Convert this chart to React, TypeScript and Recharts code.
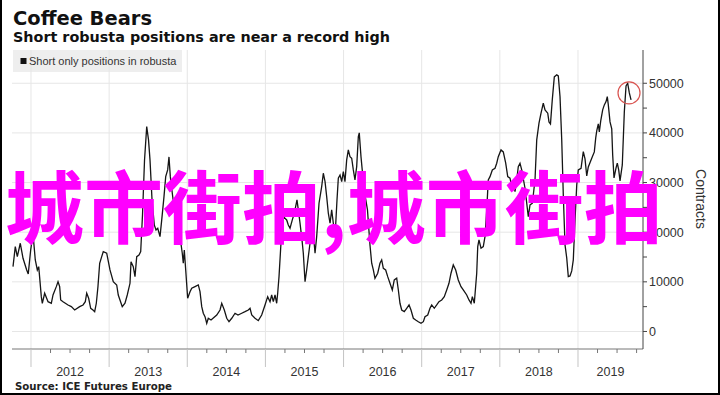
import React from 'react';
import { LineChart, Line, XAxis, YAxis, ReferenceLine, ReferenceDot } from 'recharts';

// weekly-ish readings, decimal years
const dates = [
  2011.770, 2011.799, 2011.825, 2011.863, 2011.898, 2011.945, 2011.965, 2011.996, 2012.026, 2012.055,
  2012.081, 2012.099, 2012.132, 2012.145, 2012.175, 2012.218, 2012.260, 2012.282, 2012.324, 2012.346,
  2012.367, 2012.380, 2012.410, 2012.474, 2012.516, 2012.559, 2012.623, 2012.666, 2012.695, 2012.713,
  2012.738, 2012.764, 2012.793, 2012.815, 2012.836, 2012.857, 2012.879, 2012.905, 2012.925, 2012.969,
  2013.011, 2013.053, 2013.097, 2013.117, 2013.168, 2013.203, 2013.232, 2013.267, 2013.280, 2013.309,
  2013.331, 2013.353, 2013.382, 2013.404, 2013.427, 2013.453, 2013.481, 2013.504, 2013.523, 2013.549,
  2013.578, 2013.600, 2013.622, 2013.651, 2013.673, 2013.702, 2013.724, 2013.749, 2013.766, 2013.783,
  2013.811, 2013.843, 2013.881, 2013.907, 2013.936, 2013.949, 2013.962, 2013.980, 2014.005, 2014.035,
  2014.057, 2014.099, 2014.141, 2014.163, 2014.185, 2014.205, 2014.227, 2014.249, 2014.269, 2014.304,
  2014.377, 2014.419, 2014.441, 2014.474, 2014.505, 2014.534, 2014.569, 2014.611, 2014.649, 2014.697,
  2014.739, 2014.781, 2014.803, 2014.825, 2014.867, 2014.909, 2014.952, 2014.995, 2015.029, 2015.059,
  2015.080, 2015.101, 2015.123, 2015.144, 2015.157, 2015.174, 2015.199, 2015.229, 2015.272, 2015.293,
  2015.315, 2015.344, 2015.370, 2015.404, 2015.421, 2015.443, 2015.468, 2015.485, 2015.507, 2015.528,
  2015.549, 2015.571, 2015.613, 2015.635, 2015.656, 2015.686, 2015.720, 2015.741, 2015.763, 2015.784,
  2015.805, 2015.827, 2015.848, 2015.869, 2015.891, 2015.916, 2015.933, 2015.955, 2015.976, 2015.997,
  2016.018, 2016.040, 2016.061, 2016.082, 2016.104, 2016.125, 2016.146, 2016.168, 2016.189, 2016.201,
  2016.223, 2016.245, 2016.274, 2016.306, 2016.338, 2016.360, 2016.381, 2016.402, 2016.437, 2016.466,
  2016.488, 2016.509, 2016.539, 2016.565, 2016.594, 2016.624, 2016.649, 2016.680, 2016.701, 2016.722,
  2016.744, 2016.777, 2016.808, 2016.838, 2016.863, 2016.893, 2016.923, 2016.957, 2016.991, 2017.021,
  2017.042, 2017.077, 2017.106, 2017.128, 2017.161, 2017.192, 2017.221, 2017.256, 2017.289, 2017.320,
  2017.349, 2017.375, 2017.404, 2017.435, 2017.468, 2017.503, 2017.532, 2017.576, 2017.605, 2017.631,
  2017.648, 2017.673, 2017.704, 2017.717, 2017.733, 2017.759, 2017.788, 2017.810, 2017.832, 2017.852,
  2017.874, 2017.904, 2017.938, 2017.960, 2017.980, 2018.015, 2018.044, 2018.075, 2018.101, 2018.130,
  2018.152, 2018.172, 2018.194, 2018.216, 2018.236, 2018.258, 2018.280, 2018.322, 2018.364, 2018.386,
  2018.416, 2018.450, 2018.472, 2018.501, 2018.527, 2018.556, 2018.578, 2018.613, 2018.629, 2018.648,
  2018.671, 2018.697, 2018.728, 2018.748, 2018.770, 2018.792, 2018.812, 2018.834, 2018.856, 2018.876,
  2018.898, 2018.920, 2018.940, 2018.962, 2018.984, 2019.004, 2019.039, 2019.068, 2019.090, 2019.112,
  2019.132, 2019.176, 2019.209, 2019.227, 2019.240, 2019.260, 2019.273, 2019.291, 2019.316, 2019.337,
  2019.359, 2019.375, 2019.388, 2019.410, 2019.432, 2019.444, 2019.461, 2019.487, 2019.503, 2019.521,
  2019.538, 2019.567, 2019.593, 2019.615, 2019.636, 2019.657, 2019.679,
];

const shortPositions = [
  13060, 17090, 15070, 17770, 14750, 12390, 11590, 16420, 19650, 14410,
  12390, 13060, 7010, 5680, 7700, 6000, 5680, 7350, 9030, 10030,
  9030, 6350, 6000, 5340, 5000, 4330, 5000, 5340, 6000, 7700,
  6690, 4670, 4330, 3990, 5680, 9030, 13740, 15070, 16080, 15760,
  12390, 10030, 9370, 7350, 5000, 5680, 7350, 9710, 14060, 13060,
  11040, 15070, 15410, 16080, 23470, 34560, 41270, 38590, 34560, 26500,
  21460, 20450, 20790, 19100, 22470, 27160, 31190, 32540, 35160, 31190,
  27500, 23470, 20050, 19100, 15760, 13740, 16420, 12390, 6690, 8020,
  8700, 9030, 9370, 8020, 5000, 3670, 2980, 1650, 2660, 2320,
  3320, 4330, 5680, 4330, 2660, 1970, 2660, 3670, 3320, 3670,
  3990, 4330, 4670, 3320, 2660, 2180, 3320, 5340, 7010, 6000,
  7350, 6000, 7350, 5680, 7700, 11040, 17770, 23130, 22470, 21460,
  20790, 22470, 23820, 26500, 24480, 21800, 18440, 15760, 10030, 12390,
  15070, 17770, 19790, 15760, 19100, 25830, 29180, 31880, 30180, 27160,
  23820, 21800, 24480, 21800, 19100, 26500, 30870, 31530, 30180, 32200,
  30180, 34560, 36570, 35220, 34900, 32540, 30530, 33210, 39250, 40000,
  35220, 31530, 27500, 24480, 17430, 13740, 12390, 10720, 11730, 13740,
  14410, 12730, 12390, 11040, 9710, 8360, 10380, 10720, 8360, 5680,
  4330, 3990, 4670, 5340, 4330, 2660, 2320, 1970, 1650, 1970,
  2980, 3320, 4670, 5340, 4670, 5340, 6000, 6350, 7010, 8360,
  9710, 11730, 13400, 12390, 10380, 9030, 8360, 7350, 6350, 5680,
  7010, 5680, 11730, 17090, 18440, 16760, 17090, 19100, 24480, 30530,
  31190, 32540, 32880, 33890, 35220, 36570, 36170, 33890, 31190, 30870,
  29180, 29920, 28170, 30530, 33210, 33890, 32540, 28850, 23130, 25490,
  25830, 30530, 38590, 41950, 43970, 45980, 44630, 43970, 42210, 41810,
  46650, 51280, 51690, 51480, 47310, 38590, 27500, 17430, 14810, 11040,
  11180, 12190, 14410, 22470, 29520, 32540, 32880, 36230, 34760, 31330,
  33150, 34900, 36170, 38990, 40400, 41810, 40200, 42420, 44630, 45640,
  46300, 47310, 45640, 42210, 40800, 35560, 30930, 32950, 33890, 32540,
  30330, 33550, 44230, 49470, 50010, 48060, 46650,
];

const years = [2012, 2013, 2014, 2015, 2016, 2017, 2018, 2019];
const yearLabels = ['2012', '2013', '2014', '2015', '2016', '2017', '2018', '2019'];
const yearLabelAt = [2012.5, 2013.5, 2014.5, 2015.5, 2016.5, 2017.5, 2018.5, 2019.416];
const gridValues = [0, 10000, 20000, 30000, 40000, 50000];
const axisValues = [0, 5000, 10000, 15000, 20000, 25000, 30000, 35000, 40000, 45000, 50000];

const data = dates.map((t, i) => ({ t, v: shortPositions[i] }));
const quarterTicks = years.flatMap((y) => [y, y + 0.25, y + 0.5, y + 0.75]);
const xTicks = Array.from(new Set([...quarterTicks, ...yearLabelAt])).sort((a, b) => a - b);

const AXIS_FONT = '"Liberation Sans", Arial, sans-serif';
const TITLE_FONT = '"DejaVu Sans", Verdana, sans-serif';

function XTick({ x, y, payload }: any) {
  const v = payload.value;
  const li = yearLabelAt.indexOf(v);
  const isYear = Number.isInteger(v);
  const isQuarter = !isYear && Math.abs(v * 4 - Math.round(v * 4)) < 1e-6;
  return (
    <g>
      {isYear && <line x1={x} x2={x} y1={y} y2={y + 18} stroke="#c4c4c4" />}
      {isQuarter && <line x1={x} x2={x} y1={y} y2={y + 4} stroke="#777" />}
      {li >= 0 && (
        <text x={x} y={y + 26.5} textAnchor="middle" fill="#333" fontSize={12.5} fontFamily={AXIS_FONT}>
          {yearLabels[li]}
        </text>
      )}
    </g>
  );
}

function YTick({ x, y, payload }: any) {
  const v = payload.value;
  const major = v % 10000 === 0;
  return (
    <g>
      <line x1={x} x2={x + 4} y1={y} y2={y} stroke="#444" />
      {major && (
        <text x={x + 6} y={y + 4.5} fill="#333" fontSize={12.5} fontFamily={AXIS_FONT}>
          {v}
        </text>
      )}
    </g>
  );
}

export default function App() {
  return (
    <div style={{ position: 'fixed', left: 0, top: 0, width: 720, height: 395, background: '#fff', overflow: 'hidden' }}>
      <svg width={720} height={395} style={{ position: 'absolute', left: 0, top: 0 }}>
        <rect x={13} y={50} width={169} height={22} fill="#eeeeee" />
      </svg>
      <div style={{ position: 'absolute', left: 0, top: 0 }}>
        <LineChart width={720} height={395} data={data} margin={{ top: 50, right: 0, bottom: 0, left: 12 }}>
          {years.map((yr) => (
            <ReferenceLine key={'vx' + yr} x={yr} stroke="#e6e6e6" strokeWidth={1} />
          ))}
          {gridValues.map((g) => (
            <ReferenceLine key={'hy' + g} y={g} stroke="#e6e6e6" strokeWidth={1} />
          ))}
          <XAxis
            dataKey="t"
            type="number"
            domain={[2011.757, 2019.832]}
            ticks={xTicks}
            interval={0}
            height={46}
            tickSize={0}
            tickMargin={0}
            tickLine={false}
            axisLine={{ stroke: '#777' }}
            tick={<XTick />}
            allowDataOverflow
          />
          <YAxis
            orientation="right"
            type="number"
            domain={[-3530, 56700]}
            ticks={axisValues}
            interval={0}
            width={77}
            tickSize={0}
            tickMargin={0}
            tickLine={false}
            axisLine={{ stroke: '#444' }}
            tick={<YTick />}
            allowDataOverflow
          />
          <Line
            type="linear"
            dataKey="v"
            stroke="#151515"
            strokeWidth={1.3}
            dot={false}
            activeDot={false}
            isAnimationActive={false}
          />
          <ReferenceDot x={2019.653} y={48060} r={11} fill="none" stroke="#d9534f" strokeWidth={1.2} />
        </LineChart>
      </div>
      <svg width={720} height={395} style={{ position: 'absolute', left: 0, top: 0, pointerEvents: 'none' }}>
        <text x={13} y={25} fontFamily={TITLE_FONT} fontWeight={700} fontSize={20} fill="#111" textLength={139} lengthAdjust="spacingAndGlyphs">
          Coffee Bears
        </text>
        <text x={13} y={41.5} fontFamily={TITLE_FONT} fontWeight={700} fontSize={14} fill="#111" textLength={377} lengthAdjust="spacingAndGlyphs">
          Short robusta positions are near a record high
        </text>
        <rect x={20.5} y={58} width={6} height={6} fill="#111" />
        <text x={29} y={65} fontFamily={AXIS_FONT} fontSize={11} fill="#333">
          Short only positions in robusta
        </text>
        <text transform="translate(696,199) rotate(90)" textAnchor="middle" fontFamily={AXIS_FONT} fontSize={14} fill="#333">
          Contracts
        </text>
        <text x={15} y={389.5} fontFamily={TITLE_FONT} fontWeight={700} fontSize={10} fill="#222" textLength={157} lengthAdjust="spacingAndGlyphs">
          Source: ICE Futures Europe
        </text>
        <text x={5} y={238} fontFamily={'"Noto Sans CJK SC", sans-serif'} fontWeight={700} fontSize={79} fill="#ff00ff">
          城市街拍,城市街拍
        </text>
      </svg>
      <div
        style={{
          position: 'absolute', left: 0, top: 0, width: 720, height: 395, boxSizing: 'border-box',
          borderLeft: '2px solid #000', borderRight: '2px solid #000', borderBottom: '2px solid #000',
          pointerEvents: 'none',
        }}
      />
    </div>
  );
}
